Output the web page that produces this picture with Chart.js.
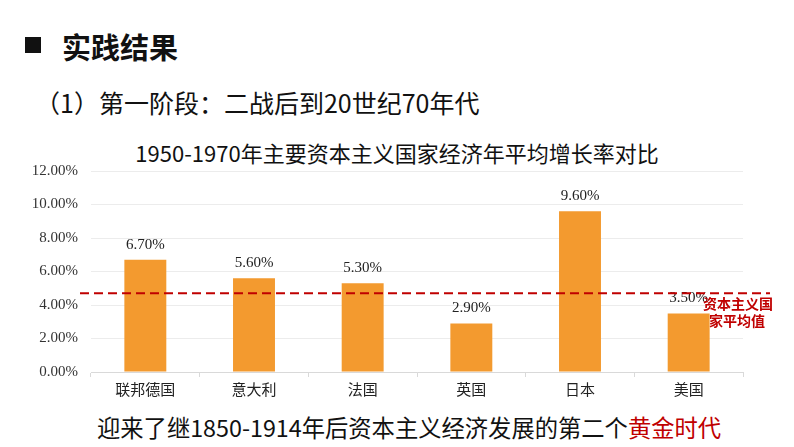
<!DOCTYPE html>
<html><head><meta charset="utf-8">
<script src="https://cdn.jsdelivr.net/npm/chart.js@4/dist/chart.umd.min.js"></script>
<style>
html,body{margin:0;padding:0;background:#fff;}
body{width:794px;height:447px;position:relative;overflow:hidden;font-family:"Noto Sans CJK SC","Noto Sans",sans-serif;}
#wrap{position:absolute;left:0;top:0;width:794px;height:447px;}
.t{position:absolute;white-space:nowrap;color:#111;line-height:1;}
#sq{position:absolute;left:25px;top:37px;width:16px;height:16px;background:#111;}
</style></head><body>
<div id="sq"></div>
<div class="t" id="h1" style="left:62px;top:32px;font-size:29px;font-weight:bold;">实践结果</div>
<div class="t" id="h2" style="left:35px;top:90px;font-size:25px;">（1）第一阶段：二战后到20世纪70年代</div>
<div class="t" id="h3" style="left:0;width:794px;text-align:center;top:141px;font-size:22px;">1950-1970年主要资本主义国家经济年平均增长率对比</div>
<div class="t" id="h4" style="left:97px;top:416px;font-size:23.3px;">迎来了继1850-1914年后资本主义经济发展的第二个<span style="color:#C00000">黄金时代</span></div>
<div id="wrap"><canvas id="c" width="794" height="447"></canvas></div>
<script>
const categories = ['联邦德国','意大利','法国','英国','日本','美国'];
const growthRates = [6.7, 5.6, 5.3, 2.9, 9.6, 3.5];
const averageRate = [4.7];
const averageLabel = ['资本主义国', '家平均值'];
const yTicks = [0, 2, 4, 6, 8, 10, 12];

const overlay = {
  id: 'overlay',
  afterDatasetsDraw(chart) {
    const ctx = chart.ctx;
    const meta = chart.getDatasetMeta(0);
    const y = chart.scales.y;
    ctx.save();
    ctx.font = '15px "Liberation Serif","Times New Roman",serif';
    ctx.fillStyle = '#222';
    ctx.textAlign = 'center';
    ctx.textBaseline = 'middle';
    meta.data.forEach((bar, i) => {
      ctx.fillText(growthRates[i].toFixed(2) + '%', bar.x, bar.y - 15);
    });
    const ay = y.getPixelForValue(averageRate[0]);
    ctx.strokeStyle = '#C00000';
    ctx.lineWidth = 2;
    ctx.setLineDash([9, 5]);
    ctx.beginPath();
    ctx.moveTo(80, ay);
    ctx.lineTo(770, ay);
    ctx.stroke();
    ctx.setLineDash([]);
    ctx.font = 'bold 14px "Noto Sans CJK SC",sans-serif';
    ctx.fillStyle = '#C00000';
    ctx.fillText(averageLabel[0], 738, ay + 10);
    ctx.fillText(averageLabel[1], 737, ay + 27);
    ctx.restore();
  }
};

new Chart(document.getElementById('c'), {
  type: 'bar',
  data: {
    labels: categories,
    datasets: [{
      data: growthRates,
      backgroundColor: '#F39A2F',
      categoryPercentage: 1,
      barPercentage: 0.386
    }]
  },
  options: {
    responsive: false,
    animation: false,
    events: [],
    layout: { padding: { left: 0, top: 171, right: 51, bottom: 47 } },
    plugins: { legend: { display: false }, tooltip: { enabled: false }, title: { display: false } },
    scales: {
      x: {
        afterFit(s) { s.height = 28; },
        grid: { drawOnChartArea: false, drawTicks: true, tickLength: 5, color: '#d9d9d9' },
        border: { color: '#d9d9d9' },
        ticks: { color: '#222', font: { family: '"Noto Sans CJK SC",sans-serif', size: 15 }, padding: 3 }
      },
      y: {
        min: 0, max: 12,
        afterFit(s) { s.width = 91; },
        afterBuildTicks(s) { s.ticks = yTicks.map(v => ({ value: v })); },
        grid: { color: '#ececec', drawTicks: false },
        border: { display: false },
        ticks: {
          color: '#333',
          padding: 13,
          font: { family: '"Liberation Serif","Times New Roman",serif', size: 15 },
          callback: v => Number(v).toFixed(2) + '%'
        }
      }
    }
  },
  plugins: [overlay]
});
</script>
</body></html>
